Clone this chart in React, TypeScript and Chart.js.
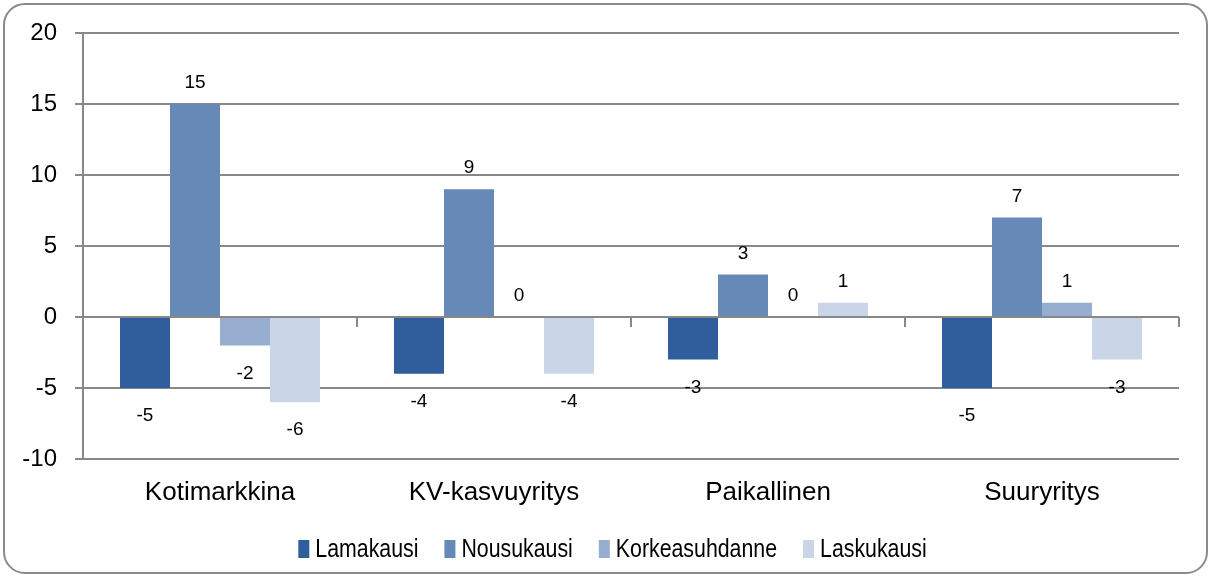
import React, { useEffect, useRef } from 'react';
import { Chart, registerables } from 'chart.js';

Chart.register(...registerables);

const categories = ['Kotimarkkina', 'KV-kasvuyritys', 'Paikallinen', 'Suuryritys'];
const seriesNames = ['Lamakausi', 'Nousukausi', 'Korkeasuhdanne', 'Laskukausi'];
const lamakausi = [-5, -4, -3, -5];
const nousukausi = [15, 9, 3, 7];
const korkeasuhdanne = [-2, 0, 0, 1];
const laskukausi = [-6, -4, 1, -3];
const seriesColors = ['#305D9B', '#6689B8', '#97AED0', '#CAD6E7'];
const yMin = -10;
const yMax = 20;
const yStep = 5;

const FONT = "'Liberation Sans', Arial, sans-serif";
const GRID = '#888888';

const zeroTicksPlugin = {
  id: 'zeroTicks',
  beforeDatasetsDraw(chart: any) {
    const { ctx, chartArea, scales } = chart;
    const y0 = scales.y.getPixelForValue(0);
    const n = chart.data.labels.length;
    const w = (chartArea.right - chartArea.left) / n;
    ctx.save();
    ctx.strokeStyle = GRID;
    ctx.lineWidth = 2;
    for (let i = 1; i <= n; i++) {
      const x = chartArea.left + w * i;
      ctx.beginPath();
      ctx.moveTo(x, y0);
      ctx.lineTo(x, y0 + 10);
      ctx.stroke();
    }
    ctx.restore();
  },
};

const dataLabelPlugin = {
  id: 'dataLabels',
  afterDatasetsDraw(chart: any) {
    const { ctx } = chart;
    ctx.save();
    ctx.font = `19px ${FONT}`;
    ctx.fillStyle = '#000';
    ctx.textAlign = 'center';
    ctx.textBaseline = 'middle';
    chart.data.datasets.forEach((ds: any, di: number) => {
      const meta = chart.getDatasetMeta(di);
      meta.data.forEach((el: any, i: number) => {
        const v = ds.data[i];
        const y = v >= 0 ? el.y - 21 : el.y + 28;
        ctx.fillText(String(v), el.x, y);
      });
    });
    ctx.restore();
  },
};

const legendPlugin = {
  id: 'customLegend',
  afterDraw(chart: any) {
    const { ctx } = chart;
    const fontSize = 26;
    const squeeze = 0.82;
    const boxW = 11;
    const boxH = 18;
    const gapBox = 6;
    const gapItem = 26;
    ctx.save();
    ctx.font = `${fontSize}px ${FONT}`;
    const items = chart.data.datasets.map((ds: any) => ({
      label: ds.label,
      color: ds.backgroundColor,
      w: ctx.measureText(ds.label).width * squeeze,
    }));
    const total =
      items.reduce((s: number, it: any) => s + boxW + gapBox + it.w, 0) + gapItem * (items.length - 1);
    let x = chart.width / 2 + 8 - total / 2;
    const cy = chart.height - 27;
    items.forEach((it: any) => {
      ctx.fillStyle = it.color;
      ctx.fillRect(x, cy - boxH / 2, boxW, boxH);
      x += boxW + gapBox;
      ctx.save();
      ctx.translate(x, cy);
      ctx.scale(squeeze, 1);
      ctx.fillStyle = '#000';
      ctx.textAlign = 'left';
      ctx.textBaseline = 'middle';
      ctx.fillText(it.label, 0, 1);
      ctx.restore();
      x += it.w + gapItem;
    });
    ctx.restore();
  },
};

export default function App() {
  const ref = useRef<HTMLCanvasElement>(null);

  useEffect(() => {
    if (!ref.current) return;
    const seriesData = [lamakausi, nousukausi, korkeasuhdanne, laskukausi];
    const chart = new Chart(ref.current, {
      type: 'bar',
      data: {
        labels: categories,
        datasets: seriesNames.map((name, i) => ({
          label: name,
          data: seriesData[i],
          backgroundColor: seriesColors[i],
          borderWidth: 0,
          categoryPercentage: 0.73,
          barPercentage: 1.0,
        })),
      },
      options: {
        animation: false,
        responsive: false,
        maintainAspectRatio: false,
        layout: { padding: { top: 33, right: 30, left: 0, bottom: 0 } },
        plugins: {
          legend: { display: false },
          tooltip: { enabled: false },
        },
        scales: {
          x: {
            grid: { display: false, drawTicks: false },
            border: { display: false },
            ticks: {
              color: '#000',
              font: { size: 26, family: FONT },
              padding: 18,
            },
            afterFit: (scale: any) => {
              scale.height = 117;
            },
          },
          y: {
            min: yMin,
            max: yMax,
            ticks: {
              stepSize: yStep,
              color: '#000',
              font: { size: 24, family: FONT },
              padding: 18,
            },
            grid: { color: GRID, lineWidth: 2, tickLength: 8, drawTicks: true },
            border: { display: true, color: GRID, width: 2 },
            afterFit: (scale: any) => {
              scale.width = 83;
            },
          },
        },
      },
      plugins: [zeroTicksPlugin, dataLabelPlugin, legendPlugin],
    });
    return () => chart.destroy();
  }, []);

  return (
    <div style={{ position: 'absolute', left: 0, top: 0, width: 1209, height: 576, background: '#fff' }}>
      <canvas ref={ref} width={1209} height={576} style={{ position: 'absolute', left: 0, top: 0 }} />
      <div
        style={{
          position: 'absolute',
          left: 3,
          top: 3,
          width: 1205,
          height: 571,
          boxSizing: 'border-box',
          border: '2px solid #8a8a8a',
          borderRadius: 22,
          pointerEvents: 'none',
        }}
      />
    </div>
  );
}
